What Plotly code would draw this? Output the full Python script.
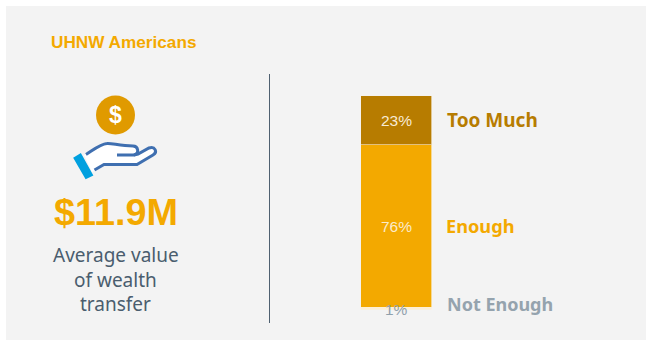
import plotly.graph_objects as go

WIDTH, HEIGHT = 646, 340

# Share of respondents, stacked from the bottom of the column upward
segment_names = ["Not Enough", "Enough", "Too Much"]
segment_values = [1, 76, 23]
segment_colors = ["#FDEFD2", "#F3A900", "#B77C00"]
label_colors = ["#95A3AE", "#F3A900", "#B77C00"]
value_text_colors = ["#8FA0AC", "#FBEBCB", "#F7EBD5"]
label_y_px = [303.5, 225.5, 120]
label_x_px = [445, 443.5, 445]
label_sizes = [18, 18.2, 19]

title_text = "UHNW Americans"
headline_text = "$11.9M"
caption_lines = ["Average value", "of wealth", "transfer"]

TEXT_FONT = "Noto Sans"
HEAD_FONT = "Liberation Sans"


def px(x):
    return x / WIDTH


def py(y):
    return 1 - y / HEIGHT


def path(*commands):
    """Build an SVG path in figure pixels, converted to paper fractions."""
    out = []
    for cmd, *pts in commands:
        coords = " ".join(f"{px(x):.5f},{py(y):.5f}" for x, y in pts)
        out.append(f"{cmd}{coords}")
    return " ".join(out)


def polyline(*pts):
    """One straight-line command per vertex, as shape paths require."""
    return [("L", p) for p in pts]


def note(x, y, text, size, color, family=TEXT_FONT, anchor="left", bold=False):
    return dict(
        xref="paper", yref="paper", x=px(x), y=py(y), text=f"<b>{text}</b>" if bold else text,
        showarrow=False, xanchor=anchor, yanchor="middle",
        font=dict(size=size, color=color, family=family),
    )


fig = go.Figure()
for name, value, color in zip(segment_names, segment_values, segment_colors):
    fig.add_trace(go.Bar(
        x=[0], y=[value], name=name, width=1,
        marker=dict(color=color, line=dict(color="#FBEFD6", width=0.6)),
        hoverinfo="name+y",
    ))

# Dollar coin and open hand, positioned in figure pixels
hand_fill = path(
    ("M", (84, 155)), ("C", (92, 151), (100, 144), (107, 143.5)),
    ("C", (112, 143), (120, 146), (133, 146)),
    *polyline((138, 150), (138, 154), (150, 148), (156, 150), (153, 156), (137, 165), (104, 165), (92, 172)),
    ("Z",),
)
hand_back = path(
    ("M", (86, 154.5)), ("C", (92, 151), (100, 144), (107, 143.5)),
    ("C", (112, 143), (120, 146), (133, 146)), ("C", (138, 146), (140, 153), (134, 155)), ("L", (117, 155)),
)
hand_palm = path(
    ("M", (134, 155)), *polyline((138, 154), (149, 148)), ("C", (155, 146), (158, 152), (153, 155)),
    *polyline((137, 164.5), (104, 164.5), (94.5, 170)),
)
cuff = path(("M", (74.5, 158)), *polyline((80.5, 154.5), (92, 175), (86, 178)), ("Z",))

shapes = [
    dict(type="rect", xref="paper", yref="paper", x0=px(6), x1=1, y0=0, y1=py(6),
         fillcolor="#F3F3F3", line=dict(width=0), layer="below"),
    dict(type="line", xref="paper", yref="paper", x0=px(269.5), x1=px(269.5), y0=py(74), y1=py(323),
         line=dict(color="#4F6070", width=1)),
    dict(type="circle", xref="paper", yref="paper", x0=px(96), x1=px(135), y0=py(95.5), y1=py(134.5),
         fillcolor="#E09A00", line=dict(width=0)),
    dict(type="path", xref="paper", yref="paper", path=hand_fill, fillcolor="#FFFFFF", line=dict(width=0)),
    dict(type="path", xref="paper", yref="paper", path=hand_back, line=dict(color="#3F6FB0", width=3)),
    dict(type="path", xref="paper", yref="paper", path=hand_palm, line=dict(color="#3F6FB0", width=3)),
    dict(type="path", xref="paper", yref="paper", path=cuff, fillcolor="#00A0DF",
         line=dict(color="#00A0DF", width=2)),
]

annotations = [
    note(48.5, 41.5, title_text, 17.2, "#F3A900", HEAD_FONT, bold=True),
    note(115.5, 115, "$", 23, "#FFFFFF", HEAD_FONT, anchor="center", bold=True),
    note(115.5, 212, headline_text, 37.8, "#F3A900", HEAD_FONT, anchor="center", bold=True),
]
for line, y in zip(caption_lines, [254.5, 279.5, 303.5]):
    annotations.append(note(115.5, y, line, 19, "#4A5D6E", anchor="center"))

# Value labels sit at each segment's midpoint on the bar's own axis
base = 0
for i, (name, value) in enumerate(zip(segment_names, segment_values)):
    y_value = base + value / 2 if value > 1 else base
    annotations.append(dict(
        xref="x", yref="y", x=0, y=y_value, text=f"{value}%", showarrow=False,
        xanchor="center", yanchor="middle",
        font=dict(size=15.5, color=value_text_colors[i], family="Liberation Sans"),
    ))
    base += value
    annotations.append(note(label_x_px[i], label_y_px[i], name, label_sizes[i], label_colors[i], bold=True))

fig.update_layout(
    width=WIDTH, height=HEIGHT, autosize=False, barmode="stack", showlegend=False,
    margin=dict(l=0, r=0, t=0, b=0), paper_bgcolor="#FFFFFF", plot_bgcolor="rgba(0,0,0,0)",
    xaxis=dict(domain=[px(360.7), px(431.5)], range=[-0.5, 0.5], visible=False, fixedrange=True),
    yaxis=dict(domain=[py(309.6), py(95.7)], range=[0, 100], visible=False, fixedrange=True),
    shapes=shapes, annotations=annotations,
)

fig.write_html("out.html", config={"displayModeBar": False})
